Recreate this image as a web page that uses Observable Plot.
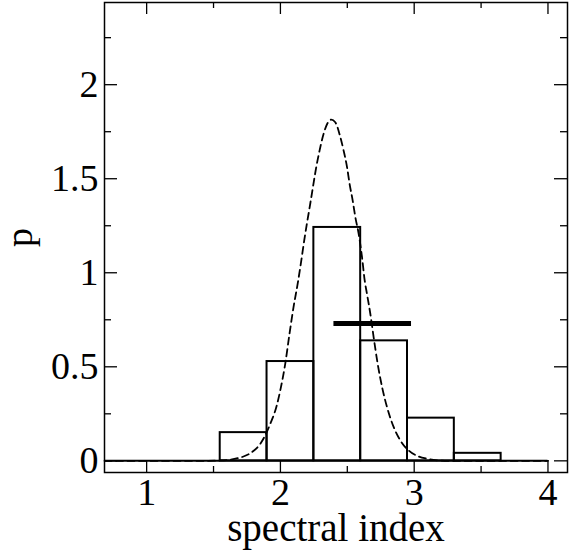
<!DOCTYPE html>
<html>
<head>
<meta charset="utf-8">
<script src="https://cdn.jsdelivr.net/npm/d3@7"></script>
<script src="https://cdn.jsdelivr.net/npm/@observablehq/plot@0.6"></script>
<style>
  html, body { margin: 0; padding: 0; background: #fff; }
</style>
</head>
<body>
<div id="chart"></div>
<script>
// Histogram bins (spectral index) and probability heights
const binLo = [1.55, 1.90, 2.25, 2.60, 2.95, 3.30, 3.65];
const binHi = [1.90, 2.25, 2.60, 2.95, 3.30, 3.65, 4.00];
const binP  = [0.150, 0.528, 1.241, 0.638, 0.227, 0.040, 0.000];

// Dashed curve
const curveX = [0.685, 1.40, 1.55, 1.61, 1.68, 1.724, 1.787, 1.849, 1.894, 1.924, 1.969, 2.004, 2.036, 2.068, 2.098, 2.131, 2.156, 2.178, 2.198, 2.223, 2.243, 2.268, 2.293, 2.323, 2.352, 2.380, 2.410, 2.448, 2.472, 2.498, 2.517, 2.540, 2.560, 2.585, 2.610, 2.630, 2.647, 2.672, 2.697, 2.727, 2.760, 2.797, 2.847, 2.897, 2.959, 3.034, 3.097, 3.171, 3.25, 4.00];
const curveY = [0, 0, 0.002, 0.005, 0.014, 0.023, 0.046, 0.090, 0.147, 0.197, 0.285, 0.392, 0.516, 0.676, 0.817, 0.950, 1.065, 1.172, 1.261, 1.367, 1.455, 1.562, 1.651, 1.739, 1.795, 1.814, 1.800, 1.721, 1.651, 1.562, 1.473, 1.385, 1.296, 1.207, 1.083, 0.959, 0.888, 0.782, 0.657, 0.516, 0.392, 0.285, 0.179, 0.108, 0.055, 0.023, 0.011, 0.003, 0, 0];

// Thick horizontal bar
const markX1 = [2.40];
const markX2 = [2.98];
const markY  = [0.73];

// Ticks
const xTicks = [1, 2, 3, 4];
const xMinor = [1.5, 2.5, 3.5];
const yTicks = [0, 0.5, 1, 1.5, 2];
const yMinor = [0.25, 0.75, 1.25, 1.75, 2.25];
const xDomain = [0.685, 4.146];
const yDomain = [-0.062, 2.437];
const xLabel = "spectral index";
const yLabel = "p";

const W = 569, H = 553;
const mL = 104, mR = 2, mT = 2, mB = 81;
const plotW = W - mL - mR, plotH = H - mT - mB;

const bins = binLo.map((lo, i) => ({lo, hi: binHi[i], p: binP[i]})).filter(d => d.p > 0);
const curve = curveX.map((x, i) => ({x, y: curveY[i]}));
const marks = markY.map((y, i) => ({y, x1: markX1[i], x2: markX2[i]}));

const tickStyle = {stroke: "black", strokeWidth: 1.3};

const chart = Plot.plot({
  width: W,
  height: H,
  marginLeft: mL, marginRight: mR, marginTop: mT, marginBottom: mB,
  style: {fontFamily: "'Liberation Serif', 'DejaVu Serif', serif", fontSize: "38px", color: "black", background: "white"},
  x: {domain: xDomain},
  y: {domain: yDomain},
  marks: [
    // histogram baseline
    Plot.ruleY([0], {x1: xDomain[0], x2: binHi[binHi.length - 1], stroke: "black", strokeWidth: 2}),
    // histogram bars
    Plot.rectY(bins, {x1: "lo", x2: "hi", y1: 0, y2: "p", fill: "none", stroke: "black", strokeWidth: 2}),
    // dashed curve
    Plot.line(curve, {x: "x", y: "y", stroke: "black", strokeWidth: 1.8, strokeDasharray: "7,4.5", curve: "monotone-x"}),
    // thick bar
    Plot.ruleY(marks, {y: "y", x1: "x1", x2: "x2", stroke: "black", strokeWidth: 5}),
    // inward ticks
    Plot.tickX(xTicks, {x: d => d, insetTop: plotH - 12, ...tickStyle}),
    Plot.tickX(xTicks, {x: d => d, insetBottom: plotH - 12, ...tickStyle}),
    Plot.tickX(xMinor, {x: d => d, insetTop: plotH - 6, ...tickStyle}),
    Plot.tickX(xMinor, {x: d => d, insetBottom: plotH - 6, ...tickStyle}),
    Plot.tickY(yTicks, {y: d => d, insetRight: plotW - 13, ...tickStyle}),
    Plot.tickY(yTicks, {y: d => d, insetLeft: plotW - 13, ...tickStyle}),
    Plot.tickY(yMinor, {y: d => d, insetRight: plotW - 7, ...tickStyle}),
    Plot.tickY(yMinor, {y: d => d, insetLeft: plotW - 7, ...tickStyle}),
    // axes labels
    Plot.axisX({ticks: xTicks, tickSize: 0, tickPadding: 6, tickFormat: d => String(d), label: null, fontSize: 38}),
    Plot.axisY({ticks: yTicks, tickSize: 0, tickPadding: 6, tickFormat: d => String(d), label: yLabel, labelAnchor: "center", labelOffset: 99, labelArrow: "none", fontSize: 38}),
    Plot.text([xLabel], {text: d => d, frameAnchor: "bottom", dy: 56, lineAnchor: "middle", fontSize: 39}),
    Plot.frame({stroke: "black", strokeWidth: 1.5})
  ]
});
document.getElementById("chart").appendChild(chart);
</script>
</body>
</html>
